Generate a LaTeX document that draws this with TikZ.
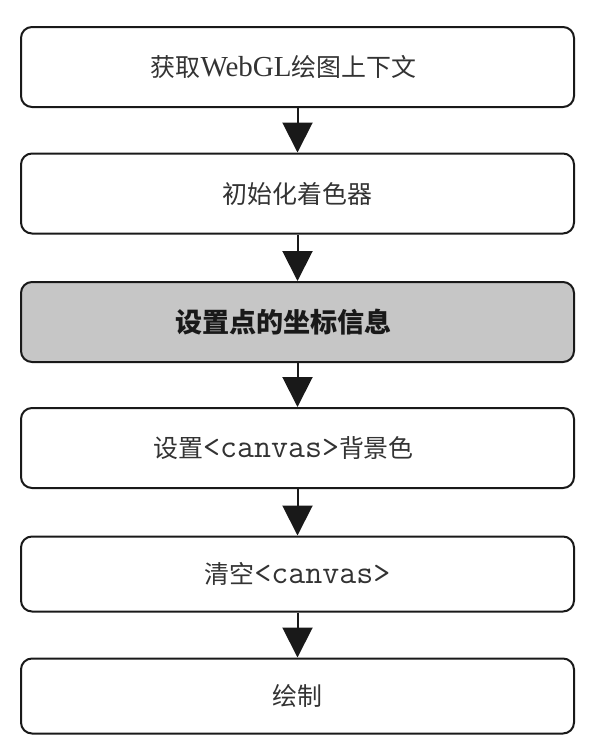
\documentclass[tikz,border=0pt]{standalone}
\usepackage{fontspec}
\setmainfont{Liberation Serif}
\newfontfamily\cjk[Scale=0.86]{Noto Sans CJK SC}
\usetikzlibrary{arrows.meta}
\definecolor{boxgray}{RGB}{198,198,198}
\newcommand{\zh}[1]{{\cjk #1}}
\newcommand{\mono}[1]{{\fontsize{33}{36}\selectfont\ttfamily #1}}

\begin{document}
\begin{tikzpicture}[x=1pt, y=1pt,
  stage/.style = {draw=black!90, line width=2pt, rounded corners=11pt,
    minimum width=553pt, minimum height=80pt, inner sep=0pt,
    text=black!80, font=\fontsize{29}{32}\selectfont},
  leftish/.style = {execute at begin node=\hspace*{-28pt}},
  flow/.style = {draw=black!90, line width=2pt, -{Triangle[length=30pt, width=30pt]}}]
\useasboundingbox (0,0) rectangle (594,-748);

%stages
\node[stage, leftish] (ctx) at (297.5,-67) {\zh{获取}WebGL\zh{绘图上下文}};
\node[stage] (shader) at (297.5,-193.5) {\zh{初始化着色器}};
\node[stage, leftish, fill=boxgray, text=black!90] (coords) at (297.5,-322)
  {\zh{\fontsize{31.5}{34}\selectfont\bfseries 设置点的坐标信息}};
\node[stage, leftish] (bg) at (297.5,-448) {\zh{设置}\mono{<canvas>}\zh{背景色}};
\node[stage, minimum height=75pt] (clear) at (297.5,-574) {\zh{清空}\mono{<canvas>}};
\node[stage, minimum height=75pt] (render) at (297.5,-696) {\zh{绘制}};

%arrows between stages
\foreach \a/\b in {ctx/shader, shader/coords, coords/bg, bg/clear, clear/render}
  \draw[flow] (\a.south) -- (\b.north);

\end{tikzpicture}
\end{document}
